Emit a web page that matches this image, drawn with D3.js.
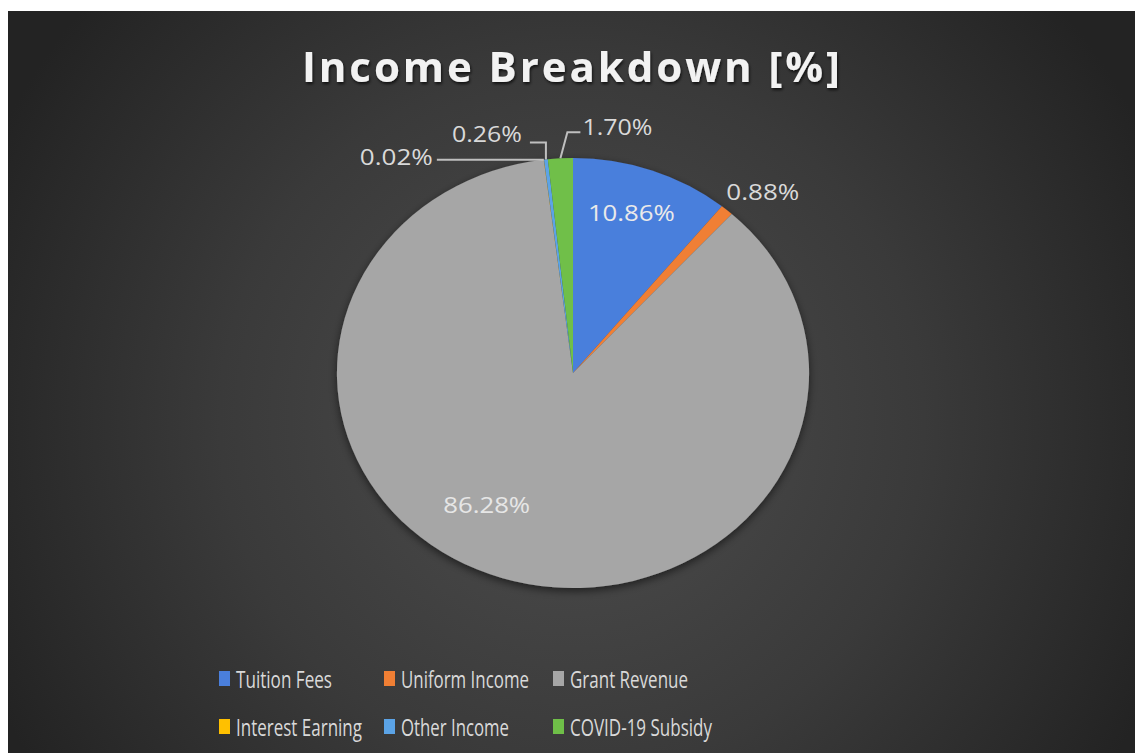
<!DOCTYPE html>
<html>
<head>
<meta charset="utf-8">
<script src="https://cdn.jsdelivr.net/npm/d3@7"></script>
<style>
  html, body { margin: 0; padding: 0; background: #ffffff; }
  svg { display: block; }
</style>
</head>
<body>
<svg id="chart" width="1135" height="753"></svg>
<script>
// ---- data ----
const categories = ["Tuition Fees", "Uniform Income", "Grant Revenue", "Interest Earning", "Other Income", "COVID-19 Subsidy"];
const values = [10.86, 0.88, 86.28, 0.02, 0.26, 1.70];
const labels = ["10.86%", "0.88%", "86.28%", "0.02%", "0.26%", "1.70%"];
const title = "Income Breakdown [%]";

// ---- style ----
const colors = ["#4a7fdc", "#f07f34", "#a6a6a6", "#ffc000", "#5ba3e6", "#6fbf48"];
const W = 1135, H = 753;
const cx = 573, cy = 373, R = 215, sx = 1.098;
const labelStyle = [
  { k: 0.79, dx: -4, dy: 0, w: 87, anchor: "middle", fill: "#eaeaea" },
  { k: 1.0, dx: 36, dy: -18, w: 73, anchor: "middle", fill: "#d9d9d9" },
  { k: 0.65, dx: -40, dy: -1, w: 87, anchor: "middle", fill: "#e6e6e6" },
  { k: 1.0, dx: -111, dy: -3, w: 73, anchor: "end", fill: "#d9d9d9", leader: [[-107, 0]] },
  { k: 1.0, dx: -24, dy: -25, w: 70, anchor: "end", fill: "#d9d9d9", leader: [[0, -17], [-16, -17]] },
  { k: 1.0, dx: 22, dy: -31, w: 70, anchor: "start", fill: "#d9d9d9", leader: [[7, -26], [20, -26]] }
];
const legendCols = [219, 384, 553];
const legendRows = [679, 727];
const legendTextW = [96, 128, 118, 126, 108, 142];

const svg = d3.select("#chart");
const defs = svg.append("defs");

const grad = defs.append("radialGradient").attr("id", "bg")
  .attr("gradientUnits", "userSpaceOnUse")
  .attr("cx", 572).attr("cy", 420).attr("r", 640);
grad.append("stop").attr("offset", "0%").attr("stop-color", "#4e4e4e");
grad.append("stop").attr("offset", "55%").attr("stop-color", "#3a3a3a");
grad.append("stop").attr("offset", "100%").attr("stop-color", "#232323");

const sh = defs.append("filter").attr("id", "pieShadow")
  .attr("x", "-20%").attr("y", "-20%").attr("width", "140%").attr("height", "140%");
sh.append("feDropShadow").attr("dx", 0).attr("dy", 3).attr("stdDeviation", 4)
  .attr("flood-color", "#000").attr("flood-opacity", 0.55);

const tsh = defs.append("filter").attr("id", "textShadow")
  .attr("x", "-10%").attr("y", "-30%").attr("width", "120%").attr("height", "160%");
tsh.append("feDropShadow").attr("dx", 1).attr("dy", 2).attr("stdDeviation", 1.5)
  .attr("flood-color", "#000").attr("flood-opacity", 0.7);

// background panel
svg.append("rect").attr("x", 8).attr("y", 11).attr("width", W - 8).attr("height", H - 11)
  .attr("fill", "url(#bg)");

// title
svg.append("text")
  .attr("x", 302).attr("y", 82)
  .attr("textLength", 538).attr("lengthAdjust", "spacing")
  .attr("font-family", "'Open Sans', 'Noto Sans', sans-serif")
  .attr("font-weight", 700).attr("font-size", 42)
  .attr("fill", "#f2f2f2")
  .attr("filter", "url(#textShadow)")
  .text(title);

// pie
const pie = d3.pie().sort(null).value(d => d);
const arcs = pie(values);
const arc = d3.arc().innerRadius(0).outerRadius(R);

const g = svg.append("g")
  .attr("transform", `translate(${cx},${cy}) scale(${sx},1)`)
  .attr("filter", "url(#pieShadow)");
g.selectAll("path").data(arcs).join("path")
  .attr("d", arc)
  .attr("fill", (d, i) => colors[i]);

function polar(a, r) {
  return [cx + sx * r * Math.sin(a), cy - r * Math.cos(a)];
}

// labels + leader lines
const lab = svg.append("g").attr("font-family", "'Open Sans', 'Noto Sans', sans-serif").attr("font-size", 21);
arcs.forEach((d, i) => {
  const st = labelStyle[i];
  const mid = (d.startAngle + d.endAngle) / 2;
  const [px, py] = polar(mid, R * st.k);
  if (st.leader) {
    const pts = [[px, py]].concat(st.leader.map(o => [px + o[0], py + o[1]]));
    lab.append("path")
      .attr("d", d3.line()(pts))
      .attr("fill", "none").attr("stroke", "#bfbfbf").attr("stroke-width", 2);
  }
  lab.append("text")
    .attr("x", px + st.dx).attr("y", py + st.dy)
    .attr("text-anchor", st.anchor)
    .attr("dominant-baseline", "central")
    .attr("textLength", st.w).attr("lengthAdjust", "spacingAndGlyphs")
    .attr("fill", st.fill)
    .text(labels[i]);
});

// legend
const leg = svg.append("g").attr("font-family", "'Liberation Sans Narrow', 'Open Sans', sans-serif").attr("font-size", 23);
categories.forEach((c, i) => {
  const x = legendCols[i % 3], y = legendRows[Math.floor(i / 3)];
  leg.append("rect").attr("x", x).attr("y", y - 8).attr("width", 11).attr("height", 15).attr("fill", colors[i]);
  leg.append("text")
    .attr("x", x + 17).attr("y", y)
    .attr("dominant-baseline", "central")
    .attr("textLength", legendTextW[i]).attr("lengthAdjust", "spacingAndGlyphs")
    .attr("fill", "#d9d9d9")
    .text(c);
});
</script>
</body>
</html>
